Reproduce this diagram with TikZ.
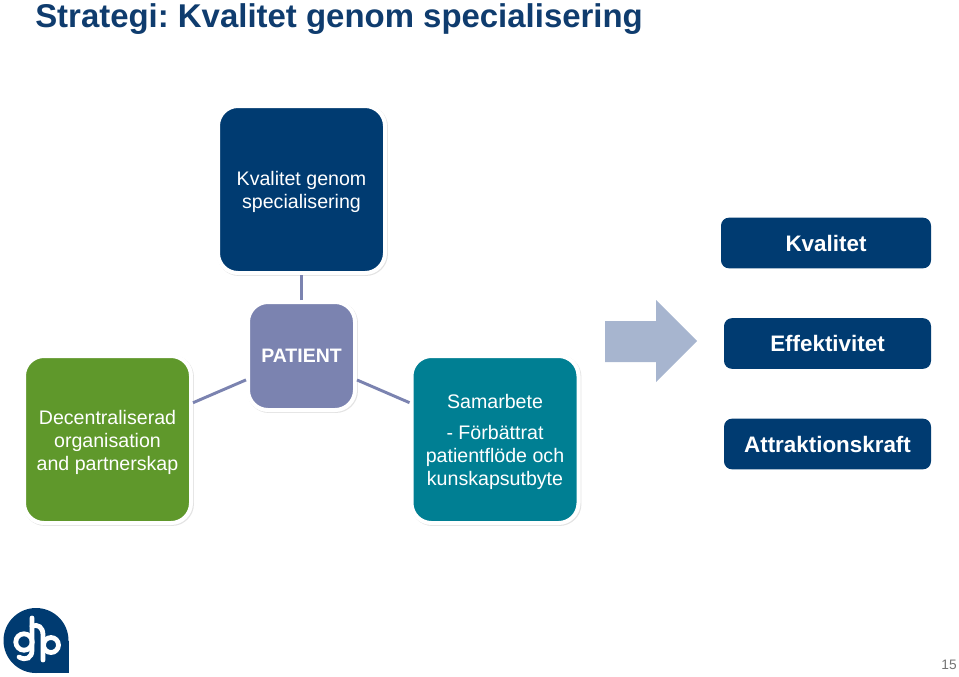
\documentclass[tikz,border=0pt]{standalone}
\usepackage{fontspec}
\setmainfont{Liberation Sans}
\usetikzlibrary{shadows}
\definecolor{navy}{HTML}{003B71}
\definecolor{leaf}{HTML}{5F982B}
\definecolor{sea}{HTML}{007F93}
\definecolor{slate}{HTML}{7B83B0}
\definecolor{pale}{HTML}{A7B5CF}
\definecolor{titleblue}{HTML}{0F3C6E}
\newcommand{\lowstart}{\rule{0pt}{14.5pt}}
\begin{document}
\frenchspacing
\begin{tikzpicture}[x=0.75pt,y=-0.75pt,
    bigbox/.style={rectangle,rounded corners=15pt,draw=white,line width=3pt,text=white,align=center,
      inner sep=0pt,font=\fontsize{14.7}{17.25}\selectfont,
      drop shadow={shadow xshift=0.7pt,shadow yshift=-0.7pt,fill=black!22,draw=black!22,line width=3pt}},
    sidebox/.style={rectangle,rounded corners=6pt,fill=navy,text=white,inner sep=0pt,minimum height=38pt,
      font=\fontsize{16.8}{18}\selectfont\bfseries},
    link/.style={draw=slate,line width=2.2pt}]
  \useasboundingbox (0,0) rectangle (959,676);
  \node[anchor=base west,text=titleblue,inner sep=0pt,font=\fontsize{24.7}{30}\selectfont\bfseries] (heading) at (35,27) {Strategi: Kvalitet genom specialisering};
  % the four squares, sizes in pixels of the reference
  \node[bigbox,fill=navy,minimum width=125.25pt,minimum height=125.25pt] (goal) at (301.5,189.5) {\lowstart Kvalitet genom\\specialisering};
  \node[bigbox,fill=slate,minimum width=80.25pt,minimum height=81pt,font=\fontsize{14.6}{17}\selectfont\bfseries] (patient) at (301.5,356) {PATIENT};
  \node[bigbox,fill=leaf,minimum width=125.25pt,minimum height=125.25pt] (org) at (107.5,439.5) {\lowstart Decentraliserad\\organisation\\and partnerskap};
  \node[bigbox,fill=sea,minimum width=125.25pt,minimum height=125.25pt] (team) at (495,439.5) {\lowstart Samarbete\\[5.5pt]- Förbättrat\\patientflöde och\\kunskapsutbyte};
  \draw[link] (patient) -- (goal);
  \draw[link] (patient) -- (org);
  \draw[link] (patient) -- (team);
  % arrow towards the results
  \fill[pale] (605,321) -- (656,321) -- (656,300) -- (697,341) -- (656,382) -- (656,362) -- (605,362) -- cycle;
  \node[sidebox,minimum width=157.5pt] (quality) at (826,243) {Kvalitet};
  \node[sidebox,minimum width=155.25pt] (speed) at (827.5,343.5) {Effektivitet};
  \node[sidebox,minimum width=155.25pt] (pull) at (827.5,444) {Attraktionskraft};
  % logo
  \fill[navy] (36,640.5) circle[radius=32.5];
  \fill[navy] (36,640.5) rectangle (68.5,673);
  \begin{scope}[draw=white,line width=3.6pt,line cap=round]
    \draw (24,642) circle[radius=8.2];
    \draw (32,618) -- (32,650) .. controls (32,658) and (26,661) .. (19,657);
    \draw (32,626) .. controls (38,624) and (43,627) .. (43,635) -- (43,660);
    \draw (51,645) circle[radius=7.5];
  \end{scope}
  \node[text=black!55,inner sep=0pt,font=\fontsize{10.3}{12}\selectfont] (pagenum) at (949,665) {15};
\end{tikzpicture}
\end{document}
